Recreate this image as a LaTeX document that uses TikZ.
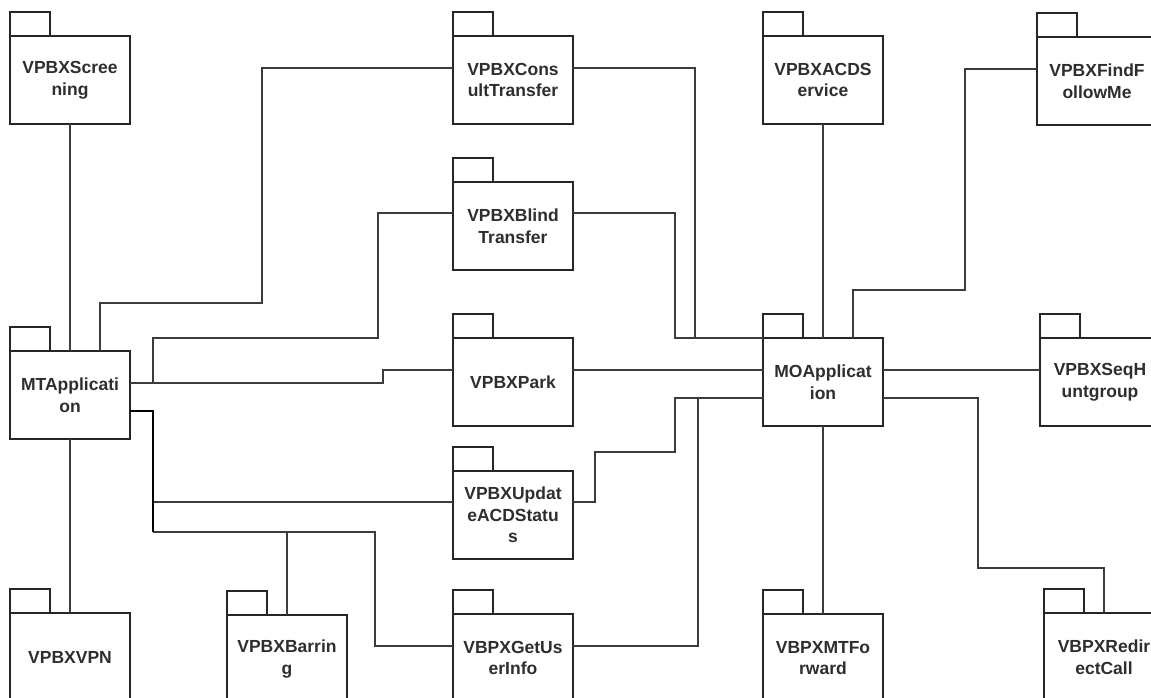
\documentclass[tikz,border=0pt]{standalone}
\usepackage{fontspec}
\setmainfont{Liberation Sans}
\definecolor{edge}{HTML}{262626}
\definecolor{wirecol}{HTML}{3C3C3C}
\definecolor{label}{HTML}{2E2E2E}
\tikzset{
  pkgbody/.style={draw=edge, line width=1.4pt, fill=white, minimum width=120pt,
    minimum height=88pt, inner sep=0pt, outer sep=0pt, align=center,
    text=label, font=\bfseries\fontsize{17.5}{21.5}\selectfont, anchor=north west},
  pkgtab/.style={draw=edge, line width=1.4pt},
  wire/.style={draw=wirecol, line width=1.3pt, line join=miter},
  trunk/.style={draw=black, line width=1.9pt, line join=miter}
}
% package symbol: body with a small tab on its upper left corner
\newcommand\pkgbox[4]{%
  \node[pkgbody] (#1) at (#2,#3) {#4};
  \draw[pkgtab] (#1.north west) rectangle ++(40pt,24pt);
}
\begin{document}
\begin{tikzpicture}[x=1pt,y=-1pt]
\useasboundingbox (0,0) rectangle (1151,698);
\clip (0,0) rectangle (1151,698);
\fill[white] (0,0) rectangle (1151,698);

% ---------- packages ----------
\pkgbox{Screen}{10}{36}{VPBXScree\\ning}
\pkgbox{Consult}{453}{36}{VPBXCons\\ultTransfer}
\pkgbox{ACD}{763}{36}{VPBXACDS\\ervice}
\pkgbox{Find}{1037}{37}{VPBXFindF\\ollowMe}
\pkgbox{Blind}{453}{182}{VPBXBlind\\Transfer}
\pkgbox{MT}{10}{351}{MTApplicati\\on}
\pkgbox{Park}{453}{338}{VPBXPark}
\pkgbox{MO}{763}{338}{MOApplicat\\ion}
\pkgbox{Seq}{1040}{338}{VPBXSeqH\\untgroup}
\pkgbox{Update}{453}{471}{VPBXUpdat\\eACDStatu\\s}
\pkgbox{VPN}{10}{613}{VPBXVPN}
\pkgbox{Barring}{227}{615}{VPBXBarrin\\g}
\pkgbox{GetUser}{453}{614}{VBPXGetUs\\erInfo}
\pkgbox{MTF}{763}{614}{VBPXMTFo\\rward}
\pkgbox{Redirect}{1044}{613}{VBPXRedir\\ectCall}

% ---------- connectors around MTApplication ----------
\draw[wire] (Screen.south) -- (MT.north);
\draw[wire] ([xshift=90pt]MT.north west) |- (262,303) |- ([yshift=12pt]Consult.west);
\draw[wire] ([yshift=12pt]MT.east) -- (153,383) |- (378,338) |- ([yshift=13pt]Blind.west);
\draw[wire] ([yshift=12pt]MT.east) -| (383,370) -- ([yshift=12pt]Park.west);
\draw[wire] (MT.south) -- (VPN.north);
\coordinate (j1) at (153,502);
\coordinate (j2) at (153,532);
\coordinate (j3) at (Barring.north |- j2);
\draw[wire] (j1) -- ([yshift=13pt]Update.west);
\draw[wire] (j2) -| (Barring.north);
\draw[wire] (j3) -| (375,646) -- ([yshift=12pt]GetUser.west);
\draw[trunk] ([yshift=-16pt]MT.east) -| (j2);

% ---------- connectors around MOApplication ----------
\draw[wire] ([yshift=12pt]Consult.east) -| (695,338) -- (MO.north west);
\draw[wire] ([yshift=13pt]Blind.east) -| (675,338) -- (MO.north west);
\draw[wire] ([yshift=12pt]Park.east) -- ([yshift=12pt]MO.west);
\draw[wire] ([yshift=13pt]Update.east) -| (595,452) -| (675,398) -- ([yshift=-16pt]MO.west);
\coordinate (j4) at (698,398);
\draw[wire] ([yshift=12pt]GetUser.east) -| (j4);
\draw[wire] (ACD.south) -- (MO.north);
\draw[wire] ([yshift=12pt]Find.west) -| (965,290) -| ([xshift=90pt]MO.north west);
\draw[wire] ([yshift=12pt]MO.east) -- ([yshift=12pt]Seq.west);
\draw[wire] ([yshift=-16pt]MO.east) -| (978,568) -| (Redirect.north);
\draw[wire] (MO.south) -- (MTF.north);
\end{tikzpicture}
\end{document}
